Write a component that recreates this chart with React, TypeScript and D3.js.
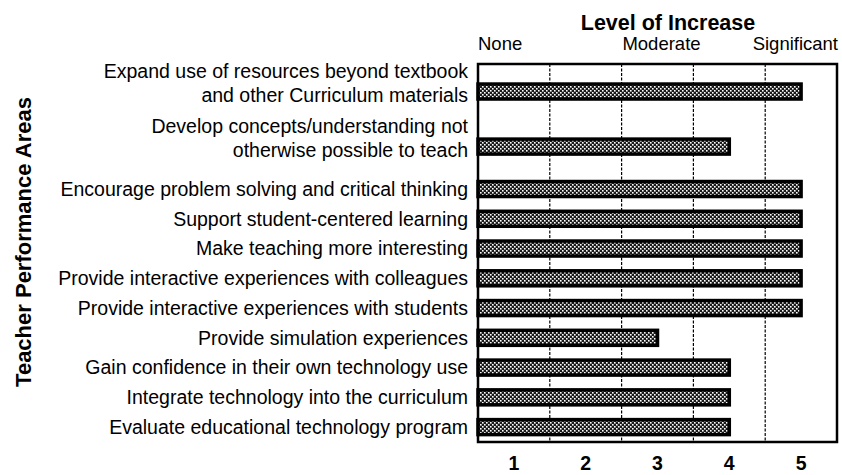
import * as d3 from "d3";
import React from "react";

const categories = [
  "Expand use of resources beyond textbook\nand other Curriculum materials",
  "Develop concepts/understanding not\notherwise possible to teach",
  "Encourage problem solving and critical thinking",
  "Support student-centered learning",
  "Make teaching more interesting",
  "Provide interactive experiences with colleagues",
  "Provide interactive experiences with students",
  "Provide simulation experiences",
  "Gain confidence in their own technology use",
  "Integrate technology into the curriculum",
  "Evaluate educational technology program",
];
const values = [5, 4, 5, 5, 5, 5, 5, 3, 4, 4, 4];
const xTicks = [1, 2, 3, 4, 5];
const gridAt = [1.5, 2.5, 3.5, 4.5];
const levelLabels = ["None", "Moderate", "Significant"];

const W = 842;
const H = 475;
const left = 478;
const right = 837;
const top = 64;
const bottom = 442;
const font = "'Liberation Sans', Arial, Helvetica, sans-serif";

const App = () => {
  const x = d3.scaleLinear().domain([0.5, 5.5]).range([left, right]);

  // two-line labels get a taller slot than one-line labels
  const lines = categories.map((c) => c.split("\n"));
  const weights = lines.map((l) => 1 + 0.85 * (l.length - 1));
  const starts = weights.map((_, i) => d3.sum(weights.slice(0, i)));
  const y = d3.scaleLinear().domain([0, d3.sum(weights)]).range([top, bottom]);
  const centers = starts.map((s, i) => y(s + weights[i] / 2));
  const barH = 15;

  return (
    <svg width={W} height={H} style={{ position: "absolute", left: 0, top: 0, background: "#fff" }} fontFamily={font}>
      <defs>
        <pattern id="dots" width={4} height={4} patternUnits="userSpaceOnUse">
          <rect width={4} height={4} fill="#1a1a1a" />
          <rect x={0} y={0} width={1.6} height={1.6} fill="#fff" />
          <rect x={2} y={2} width={1.6} height={1.6} fill="#fff" />
        </pattern>
      </defs>

      <text x={668} y={30} textAnchor="middle" fontSize={21.5} fontWeight="bold">Level of Increase</text>
      <text x={x(0.5)} y={50} textAnchor="start" fontSize={18.5}>{levelLabels[0]}</text>
      <text x={x(3) + 4} y={50} textAnchor="middle" fontSize={18.5}>{levelLabels[1]}</text>
      <text x={x(5.5) + 1} y={50} textAnchor="end" fontSize={18.5}>{levelLabels[2]}</text>

      <text transform="translate(31,242) rotate(-90)" textAnchor="middle" fontSize={22} fontWeight="bold">
        Teacher Performance Areas
      </text>

      {gridAt.map((g) => (
        <line key={g} x1={x(g)} x2={x(g)} y1={top} y2={bottom} stroke="#000" strokeWidth={1.2} strokeDasharray="3,1.5" />
      ))}

      {values.map((v, i) => (
        <rect key={i} x={x(0.5)} y={centers[i] - barH / 2} width={x(v) - x(0.5)} height={barH}
          fill="url(#dots)" stroke="#000" strokeWidth={3.5} />
      ))}

      <rect x={left} y={top} width={right - left} height={bottom - top} fill="none" stroke="#000" strokeWidth={2.5} />

      {lines.map((ls, i) =>
        ls.map((t, k) => {
          const off = ls.length > 1 ? 4 - (ls.length - 1 - k) * 24 : 0;
          return (
            <text key={i + "-" + k} x={468} y={centers[i] + off} dy="0.35em" textAnchor="end" fontSize={19.5}>
              {t}
            </text>
          );
        })
      )}

      {xTicks.map((t) => (
        <text key={t} x={x(t)} y={470} textAnchor="middle" fontSize={19.5} fontWeight="bold">{t}</text>
      ))}
    </svg>
  );
};

export default App;
